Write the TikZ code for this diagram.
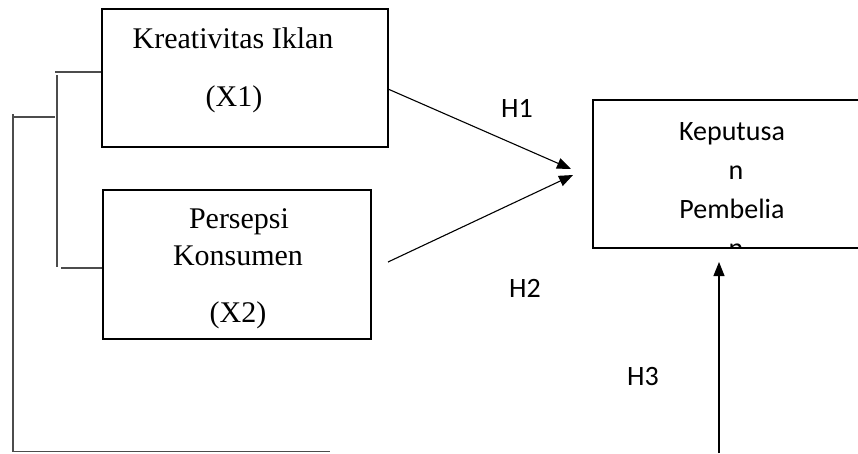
\documentclass[tikz,border=0pt]{standalone}
\usepackage{fontspec}
\setmainfont{Liberation Serif}
\newfontfamily\calibrifont{Carlito}
\usetikzlibrary{arrows.meta}
\tikzset{
  varbox/.style={draw, line width=2.4pt, inner sep=0pt},
  serif/.style={font=\fontsize{30}{34}\selectfont, inner sep=0pt, anchor=base},
  sans/.style={font=\calibrifont\fontsize{28}{34}\selectfont, inner sep=0pt, anchor=base},
  bracketline/.style={draw=black!70, line width=1.4pt},
  hyparrow/.style={line width=1.1pt, -{Triangle[length=14pt,width=11pt]}}
}

\begin{document}
\begin{tikzpicture}[x=1pt,y=-1pt]
    \useasboundingbox (0,0) rectangle (858,453);
    \clip (0,0) rectangle (858,453);

    % variable boxes
    \node[varbox, minimum width=286pt, minimum height=138pt] (x1) at (245,78) {};
    \node[varbox, minimum width=268pt, minimum height=149pt] (x2) at (237,264.5) {};
    \node[varbox, minimum width=300pt, minimum height=148pt] (y) at (743,174) {};

    % box texts
    \node[serif] (x1name) at (233,48) {Kreativitas Iklan};
    \node[serif] (x1code) at (234,106) {(X1)};
    \node[serif] (x2namea) at (239,228) {Persepsi};
    \node[serif] (x2nameb) at (238,265) {Konsumen};
    \node[serif] (x2code) at (238,322) {(X2)};
    \node[sans] (ynamea) at (732,140) {Keputusa};
    \node[sans] (ynameb) at (736,179) {n};
    \node[sans] (ynamec) at (732,218) {Pembelia};
    \begin{scope}
        \clip (593,100) rectangle (858,247);
        \node[sans] (ynamed) at (736,257) {n};
    \end{scope}

    % bracket on the left
    \coordinate (brtop) at (55,72);
    \coordinate (brtopv) at (57,75);
    \coordinate (brbotv) at (57,267);
    \coordinate (brbot) at (61,268);
    \coordinate (brmid) at (55,117);
    \coordinate (outtop) at (13,114);
    \coordinate (outbot) at (13,451.5);
    \coordinate (outend) at (330,451.5);
    \draw[bracketline] (brtop) -- (x1.west |- brtop);
    \draw[bracketline] (brtopv) -- (brbotv);
    \draw[bracketline] (brbot) -- (x2.west |- brbot);
    \draw[bracketline] (outtop |- brmid) -- (brmid);
    \draw[bracketline] (outtop) -- (outbot) -- (outend);

    % hypotheses
    \coordinate (h1start) at (388,89);
    \coordinate (h1end) at (571,169);
    \coordinate (h2start) at (388,262);
    \coordinate (h2end) at (573,175);
    \coordinate (h3start) at (719,453);
    \coordinate (h3end) at (719,262);
    \draw[hyparrow] (h1start) -- (h1end);
    \draw[hyparrow] (h2start) -- (h2end);
    \draw[hyparrow] (h3start) -- (h3end);
    \node[sans] (h1) at (517,117) {H1};
    \node[sans] (h2) at (525,297) {H2};
    \node[sans] (h3) at (643,385) {H3};
\end{tikzpicture}
\end{document}
